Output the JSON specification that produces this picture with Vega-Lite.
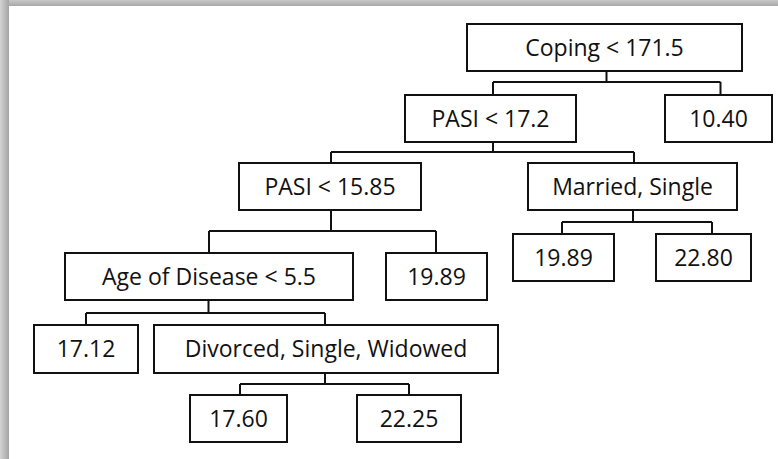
{
  "$schema": "https://vega.github.io/schema/vega-lite/v6.json",
  "width": 778,
  "height": 459,
  "autosize": {"type": "fit", "contains": "padding"},
  "padding": 0,
  "background": "white",
  "config": {"view": {"stroke": null}},
  "datasets": {
    "nodes": [
      {"label": "Coping < 171.5", "left": 467, "right": 742, "top": 24, "bottom": 71},
      {"label": "PASI < 17.2", "left": 405, "right": 576, "top": 95, "bottom": 142},
      {"label": "10.40", "left": 665, "right": 772, "top": 95, "bottom": 142},
      {"label": "PASI < 15.85", "left": 239, "right": 421, "top": 163, "bottom": 210},
      {"label": "Married,  Single", "left": 528, "right": 737, "top": 163, "bottom": 210},
      {"label": "Age of Disease < 5.5", "left": 65, "right": 353, "top": 253, "bottom": 300},
      {"label": "19.89", "left": 386, "right": 487, "top": 253, "bottom": 300},
      {"label": "19.89", "left": 513, "right": 614, "top": 234, "bottom": 281},
      {"label": "22.80", "left": 656, "right": 751, "top": 234, "bottom": 281},
      {"label": "17.12", "left": 34, "right": 138, "top": 325, "bottom": 373},
      {"label": "Divorced, Single, Widowed", "left": 154, "right": 498, "top": 325, "bottom": 373},
      {"label": "17.60", "left": 190, "right": 287, "top": 395, "bottom": 442},
      {"label": "22.25", "left": 357, "right": 461, "top": 395, "bottom": 442}
    ],
    "links": [
      {"xa": 606.5, "ya": 71, "xb": 606.5, "yb": 82},
      {"xa": 493, "ya": 82, "xb": 720.5, "yb": 82},
      {"xa": 493, "ya": 82, "xb": 493, "yb": 95},
      {"xa": 720.5, "ya": 82, "xb": 720.5, "yb": 95},
      {"xa": 493, "ya": 142, "xb": 493, "yb": 152},
      {"xa": 331, "ya": 152, "xb": 634, "yb": 152},
      {"xa": 331, "ya": 152, "xb": 331, "yb": 163},
      {"xa": 634, "ya": 152, "xb": 634, "yb": 163},
      {"xa": 331, "ya": 210, "xb": 331, "yb": 231},
      {"xa": 209, "ya": 231, "xb": 436, "yb": 231},
      {"xa": 209, "ya": 231, "xb": 209, "yb": 253},
      {"xa": 436, "ya": 231, "xb": 436, "yb": 253},
      {"xa": 633, "ya": 210, "xb": 633, "yb": 222},
      {"xa": 562, "ya": 222, "xb": 712, "yb": 222},
      {"xa": 562, "ya": 222, "xb": 562, "yb": 234},
      {"xa": 712, "ya": 222, "xb": 712, "yb": 234},
      {"xa": 208.5, "ya": 300, "xb": 208.5, "yb": 313},
      {"xa": 86, "ya": 313, "xb": 325, "yb": 313},
      {"xa": 86, "ya": 313, "xb": 86, "yb": 325},
      {"xa": 325, "ya": 313, "xb": 325, "yb": 325},
      {"xa": 325, "ya": 373, "xb": 325, "yb": 384},
      {"xa": 240, "ya": 384, "xb": 409, "yb": 384},
      {"xa": 240, "ya": 384, "xb": 240, "yb": 395},
      {"xa": 409, "ya": 384, "xb": 409, "yb": 395}
    ],
    "frame": [
      {"part": "top", "l": 0, "r": 778, "t": 0, "b": 6},
      {"part": "left", "l": 0, "r": 9, "t": 0, "b": 459}
    ]
  },
  "layer": [
    {
      "data": {"name": "frame"},
      "transform": [{"filter": "datum.part == 'top'"}],
      "mark": {"type": "rect", "color": {"gradient": "linear", "x1": 0, "y1": 0, "x2": 0, "y2": 1, "stops": [{"offset": 0, "color": "#c8c8c8"}, {"offset": 1, "color": "#a8a8a8"}]}},
      "encoding": {
        "x": {"field": "l", "type": "quantitative", "scale": {"domain": [0, 778], "nice": false, "zero": false}, "axis": null},
        "x2": {"field": "r"},
        "y": {"field": "t", "type": "quantitative", "scale": {"domain": [0, 459], "nice": false, "zero": false, "reverse": true}, "axis": null},
        "y2": {"field": "b"}
      }
    },
    {
      "data": {"name": "frame"},
      "transform": [{"filter": "datum.part == 'left'"}],
      "mark": {"type": "rect", "color": {"gradient": "linear", "x1": 0, "y1": 0, "x2": 1, "y2": 0, "stops": [{"offset": 0, "color": "#d4d4d4"}, {"offset": 1, "color": "#a4a4a4"}]}},
      "encoding": {
        "x": {"field": "l", "type": "quantitative", "scale": {"domain": [0, 778], "nice": false, "zero": false}, "axis": null},
        "x2": {"field": "r"},
        "y": {"field": "t", "type": "quantitative", "scale": {"domain": [0, 459], "nice": false, "zero": false, "reverse": true}, "axis": null},
        "y2": {"field": "b"}
      }
    },
    {
      "data": {"name": "links"},
      "mark": {"type": "rule", "color": "#111111", "strokeWidth": 2},
      "encoding": {
        "x": {"field": "xa", "type": "quantitative", "scale": {"domain": [0, 778], "nice": false, "zero": false}, "axis": null},
        "x2": {"field": "xb"},
        "y": {"field": "ya", "type": "quantitative", "scale": {"domain": [0, 459], "nice": false, "zero": false, "reverse": true}, "axis": null},
        "y2": {"field": "yb"}
      }
    },
    {
      "data": {"name": "nodes"},
      "mark": {"type": "rect", "fill": "white", "stroke": "#111111", "strokeWidth": 2},
      "encoding": {
        "x": {"field": "left", "type": "quantitative", "scale": {"domain": [0, 778], "nice": false, "zero": false}, "axis": null},
        "x2": {"field": "right"},
        "y": {"field": "top", "type": "quantitative", "scale": {"domain": [0, 459], "nice": false, "zero": false, "reverse": true}, "axis": null},
        "y2": {"field": "bottom"}
      }
    },
    {
      "data": {"name": "nodes"},
      "transform": [
        {"calculate": "(datum.left + datum.right) / 2", "as": "cx"},
        {"calculate": "(datum.top + datum.bottom) / 2", "as": "cy"}
      ],
      "mark": {"type": "text", "font": "Open Sans", "fontSize": 23, "color": "#111111", "align": "center", "baseline": "middle", "dy": 1},
      "encoding": {
        "x": {"field": "cx", "type": "quantitative", "scale": {"domain": [0, 778], "nice": false, "zero": false}, "axis": null},
        "y": {"field": "cy", "type": "quantitative", "scale": {"domain": [0, 459], "nice": false, "zero": false, "reverse": true}, "axis": null},
        "text": {"field": "label"}
      }
    }
  ]
}
